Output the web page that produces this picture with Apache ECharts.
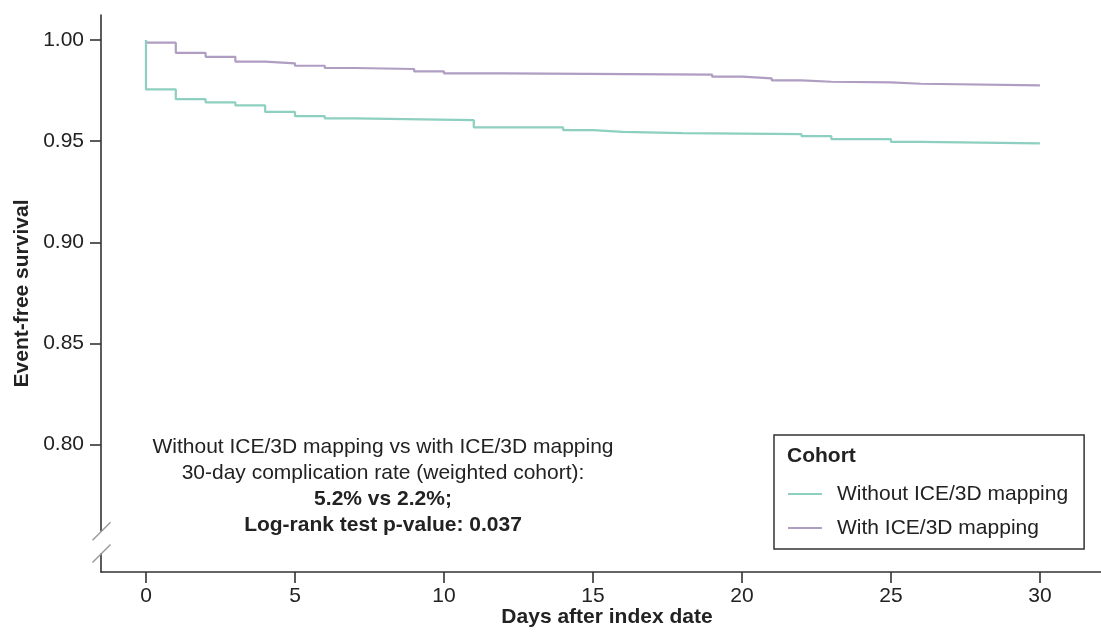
<!DOCTYPE html>
<html>
<head>
<meta charset="utf-8">
<script src="https://cdn.jsdelivr.net/npm/echarts@6/dist/echarts.min.js"></script>
<style>
  html, body { margin: 0; padding: 0; background: #fff; }
  #chart { width: 1101px; height: 632px; }
</style>
</head>
<body>
<div id="chart"></div>
<script>
// survival curves (day, event-free survival)
var withDays = [0, 0, 1, 2, 3, 4, 5, 6, 7, 9, 10, 12, 19, 20, 21, 22, 23, 25, 26, 30];
var withSurv = [1.0, 0.9987, 0.9937, 0.9917, 0.9893, 0.9885, 0.9873, 0.9862, 0.9857, 0.9845,
                0.9835, 0.9829, 0.9819, 0.9811, 0.9801, 0.9794, 0.9791, 0.9784, 0.9776, 0.9776];

var withoutDays = [0, 0, 1, 2, 3, 4, 5, 6, 7, 11, 14, 15, 16, 18, 22, 23, 25, 26, 30];
var withoutSurv = [1.0, 0.9756, 0.9708, 0.9692, 0.9677, 0.9645, 0.9624, 0.9613, 0.9604, 0.9568,
                   0.9555, 0.9546, 0.9540, 0.9535, 0.9525, 0.9510, 0.9497, 0.9489, 0.9489];

var xTicks = [0, 5, 10, 15, 20, 25, 30];
var yTicks = [0.80, 0.85, 0.90, 0.95, 1.00];

var cohortNames = ['Without ICE/3D mapping', 'With ICE/3D mapping'];
var annotation = [
  'Without ICE/3D mapping vs with ICE/3D mapping',
  '30-day complication rate (weighted cohort):',
  '5.2% vs 2.2%;',
  'Log-rank test p-value: 0.037'
];

var FONT = '"Liberation Sans", Arial, Helvetica, sans-serif';
var TEAL = '#8dcfc0';
var PURPLE = '#b09dc2';
var AXIS = '#333';

function pairs(xs, ys) {
  var out = [];
  for (var i = 0; i < xs.length; i++) out.push([xs[i], ys[i]]);
  return out;
}

var xMin = -1.51, xMax = 32.05;
var yMin = 0.737, yMax = 1.0124;

var chart = echarts.init(document.getElementById('chart'));

var option = {
  animation: false,
  backgroundColor: '#fff',
  textStyle: { fontFamily: FONT },
  grid: { left: 101, right: 0, top: 15, bottom: 60, containLabel: false, outerBoundsMode: 'none' },
  xAxis: {
    type: 'value',
    min: xMin,
    max: xMax,
    name: 'Days after index date',
    nameLocation: 'middle',
    nameGap: 35,
    nameMoveOverlap: false,
    nameTextStyle: { fontSize: 21, fontWeight: 'bold', color: '#222', fontFamily: FONT, padding: [0, 0, 0, 12] },
    splitLine: { show: false },
    axisLine: { onZero: false, lineStyle: { color: AXIS, width: 1.6 } },
    axisTick: { length: 11, lineStyle: { color: AXIS, width: 1.6 }, customValues: xTicks },
    axisLabel: { fontSize: 21, color: '#222', margin: 14, fontFamily: FONT, customValues: xTicks }
  },
  yAxis: {
    type: 'value',
    min: yMin,
    max: yMax,
    name: 'Event-free survival',
    nameLocation: 'middle',
    nameGap: 68,
    nameTextStyle: { fontSize: 21, fontWeight: 'bold', color: '#222', fontFamily: FONT },
    splitLine: { show: false },
    axisLine: { show: true, onZero: false, lineStyle: { color: AXIS, width: 1.6 } },
    axisTick: { show: true, length: 11, lineStyle: { color: AXIS, width: 1.6 }, customValues: yTicks },
    axisLabel: {
      fontSize: 21, color: '#222', margin: 17, fontFamily: FONT, customValues: yTicks,
      formatter: function (v) { return v.toFixed(2); }
    }
  },
  legend: {
    orient: 'vertical',
    left: 774,
    top: 435,
    padding: [47, 16, 9, 14],
    borderColor: AXIS,
    borderWidth: 1.5,
    itemWidth: 34,
    itemHeight: 2,
    itemGap: 10,
    icon: 'path://M0,0H34V2H0Z',
    data: cohortNames,
    textStyle: { fontSize: 21, color: '#222', fontFamily: FONT, lineHeight: 24, padding: [0, 0, 0, 10] }
  },
  series: [
    {
      name: cohortNames[0],
      type: 'line',
      step: 'end',
      z: 3,
      showSymbol: false,
      symbol: 'none',
      color: TEAL,
      lineStyle: { color: TEAL, width: 2.2 },
      data: pairs(withoutDays, withoutSurv)
    },
    {
      name: cohortNames[1],
      type: 'line',
      step: 'end',
      z: 2,
      showSymbol: false,
      symbol: 'none',
      color: PURPLE,
      lineStyle: { color: PURPLE, width: 2.2 },
      data: pairs(withDays, withSurv)
    }
  ]
};

chart.setOption(option);

// axis break marks on the y axis and the text annotations
var breakHi = chart.convertToPixel({ gridIndex: 0 }, [xMin, 0.7571]);
var breakLo = chart.convertToPixel({ gridIndex: 0 }, [xMin, 0.7462]);
var ax = breakHi[0] + 0.5;

chart.setOption({
  graphic: [
    {
      type: 'rect', z: 100,
      shape: { x: ax - 3, y: breakHi[1], width: 6, height: breakLo[1] - breakHi[1] },
      style: { fill: '#fff' }
    },
    {
      type: 'line', z: 101,
      shape: { x1: ax - 9, y1: breakHi[1] + 9, x2: ax + 9, y2: breakHi[1] - 9 },
      style: { stroke: '#999', lineWidth: 1.4 }
    },
    {
      type: 'line', z: 101,
      shape: { x1: ax - 9, y1: breakLo[1] + 9, x2: ax + 9, y2: breakLo[1] - 9 },
      style: { stroke: '#999', lineWidth: 1.4 }
    },
    {
      type: 'text', z: 100,
      style: {
        x: 383, y: 434,
        align: 'center',
        verticalAlign: 'top',
        text: '{n|' + annotation[0] + '}\n{n|' + annotation[1] + '}\n{b|' + annotation[2] + '}\n{b|' + annotation[3] + '}',
        rich: {
          n: { fontSize: 21, lineHeight: 26, fontFamily: FONT, fill: '#222', align: 'center' },
          b: { fontSize: 21, lineHeight: 26, fontFamily: FONT, fill: '#222', fontWeight: 'bold', align: 'center' }
        }
      }
    },
    {
      type: 'text', z: 100,
      style: {
        x: 787, y: 456,
        verticalAlign: 'middle',
        text: 'Cohort',
        fontSize: 21, fontWeight: 'bold', fontFamily: FONT, fill: '#222'
      }
    }
  ]
});
</script>
</body>
</html>
